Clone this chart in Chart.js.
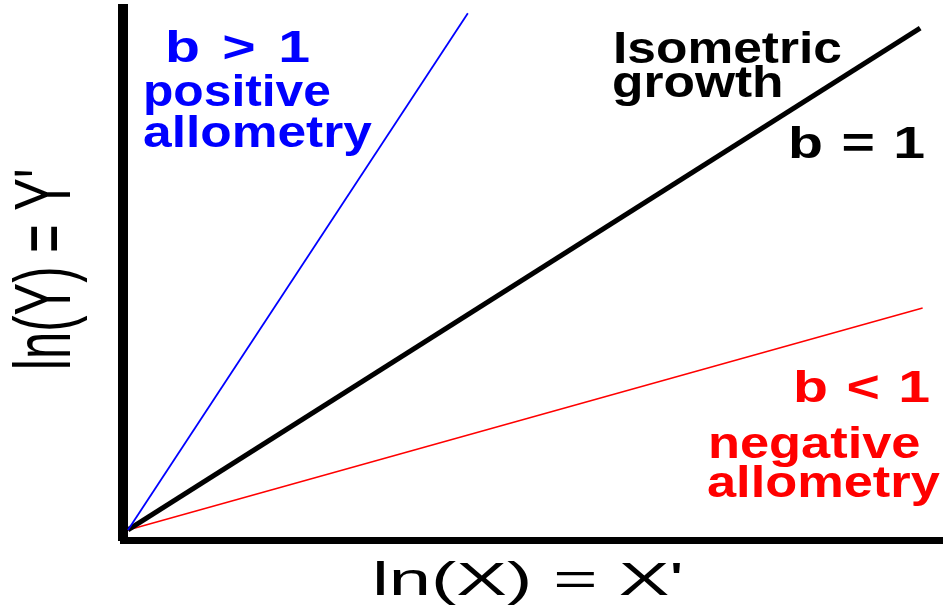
<!DOCTYPE html>
<html>
<head>
<meta charset="utf-8">
<script src="https://cdn.jsdelivr.net/npm/chart.js@4/dist/chart.umd.min.js"></script>
<style>
  html, body { margin: 0; padding: 0; background: #ffffff; }
  #wrap { width: 943px; height: 608px; position: relative; }
</style>
</head>
<body>
<div id="wrap"><canvas id="c" width="943" height="608"></canvas></div>
<script>
// ---- data (ln X, ln Y) ----
const positiveX  = [0, 41.7];
const positiveY  = [0, 100.1];
const isometricX = [0, 97.2];
const isometricY = [0, 97.2];
const negativeX  = [0, 97.5];
const negativeY  = [0, 43.0];

const xAxisTitle = "ln(X) = X'";
const yAxisTitle = "ln(Y) = Y'";
const positiveLabels  = ["b > 1", "positive", "allometry"];
const isometricLabels = ["Isometric", "growth", "b = 1"];
const negativeLabels  = ["b < 1", "negative", "allometry"];

function pts(xs, ys) { return xs.map((x, i) => ({ x: x, y: ys[i] })); }

const textPlugin = {
  id: 'annotText',
  afterDraw(chart) {
    const ctx = chart.ctx;
    function put(text, x, y, font, color, sx, rotate, sy, ws) {
      ctx.save();
      ctx.translate(x, y);
      if (rotate) ctx.rotate(-Math.PI / 2);
      ctx.scale(sx || 1, sy || 1);
      ctx.font = font;
      ctx.fillStyle = color;
      ctx.textAlign = 'left';
      ctx.textBaseline = 'alphabetic';
      try { ctx.wordSpacing = (ws || 0) + 'px'; } catch (e) {}
      ctx.fillText(text, 0, 0);
      ctx.restore();
    }
    const bold = 'bold 44px "Liberation Sans", Arial, sans-serif';
    const reg = '46px "Liberation Sans", Arial, sans-serif';
    // blue labels
    put(positiveLabels[0], 165, 62, bold, '#0000ff', 1.3, false, 1, 5);
    put(positiveLabels[1], 143, 106, bold, '#0000ff', 1.13);
    put(positiveLabels[2], 143, 147, bold, '#0000ff', 1.17);
    // black labels
    put(isometricLabels[0], 613, 63, bold, '#000000', 1.17);
    put(isometricLabels[1], 612, 97, bold, '#000000', 1.17);
    put(isometricLabels[2], 788, 158, bold, '#000000', 1.3, false, 1, 2);
    // red labels
    put(negativeLabels[0], 793, 402, bold, '#ff0000', 1.3, false, 1, 2);
    put(negativeLabels[1], 708, 458, bold, '#ff0000', 1.19);
    put(negativeLabels[2], 707, 497, bold, '#ff0000', 1.19);
    // axis titles
    put(xAxisTitle, 372, 595, reg, '#000000', 1.65);
    put(yAxisTitle, 70, 370, '49px "Liberation Sans", Arial, sans-serif', '#000000', 1, true, 1.62);
  }
};

new Chart(document.getElementById('c'), {
  type: 'scatter',
  data: {
    datasets: [
      { label: 'b > 1', data: pts(positiveX, positiveY), showLine: true, borderColor: '#0000ff', borderWidth: 1.8, pointRadius: 0 },
      { label: 'b = 1', data: pts(isometricX, isometricY), showLine: true, borderColor: '#000000', borderWidth: 5, pointRadius: 0 },
      { label: 'b < 1', data: pts(negativeX, negativeY), showLine: true, borderColor: '#ff0000', borderWidth: 1.5, pointRadius: 0 }
    ]
  },
  options: {
    responsive: false,
    animation: false,
    devicePixelRatio: 1,
    layout: { autoPadding: false, padding: { left: 123, right: 0, top: 9, bottom: 68 } },
    plugins: { legend: { display: false }, tooltip: { enabled: false }, title: { display: false } },
    scales: {
      x: {
        type: 'linear', min: -0.61, max: 100,
        grid: { display: false, drawTicks: false },
        ticks: { display: false },
        border: { display: true, width: 7, color: '#000000' }
      },
      y: {
        type: 'linear', min: -1.94, max: 100.9,
        grid: { display: false, drawTicks: false },
        ticks: { display: false },
        border: { display: true, width: 10, color: '#000000' }
      }
    }
  },
  plugins: [textPlugin]
});
</script>
</body>
</html>
